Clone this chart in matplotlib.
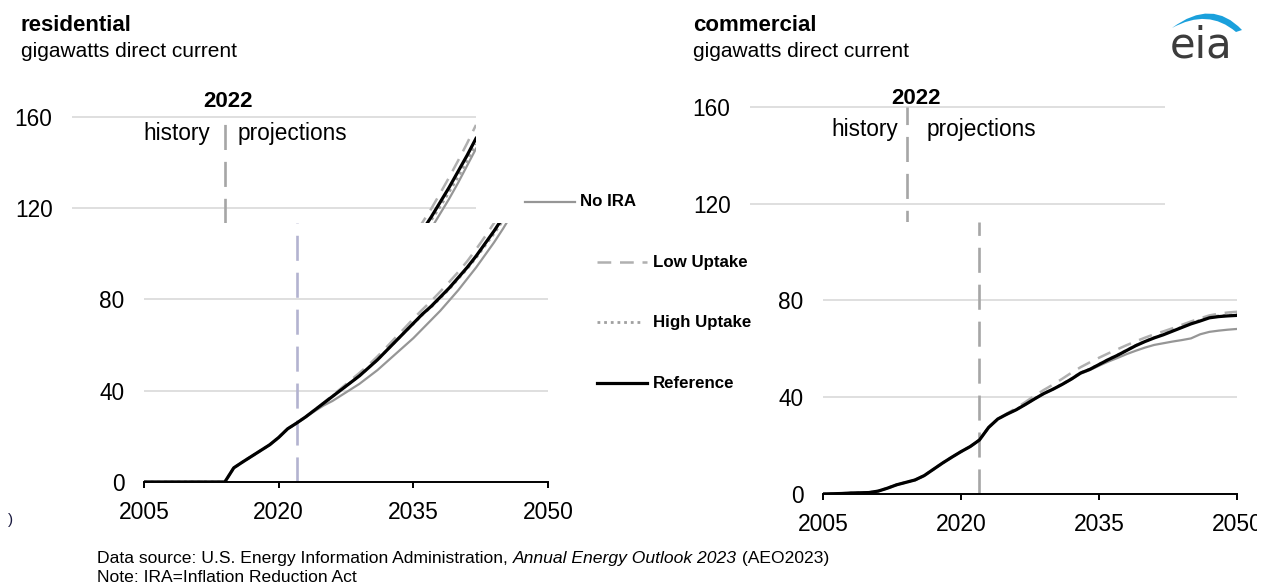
import matplotlib
matplotlib.use('Agg')
import matplotlib.pyplot as plt
from matplotlib.lines import Line2D
from matplotlib.path import Path
from matplotlib.patches import PathPatch
from matplotlib.transforms import Bbox, TransformedBbox

plt.rcParams['font.family'] = ['Liberation Sans', 'DejaVu Sans']

# ---- data ----
hist_years = list(range(2005, 2023))
proj_years = list(range(2022, 2051))

res_hist = [0, 0, 0, 0, 0, 0, 0, 0, 0, 0, 6.2, 8.8, 11.3, 13.8, 16.3, 19.5, 23.3, 25.8]
res_ref = [25.8, 28.5, 31.5, 34.5, 37.5, 40.5, 43.5, 46.5, 50, 53.5, 57.5, 61.5, 65.5, 69.5, 73.5,
           77, 81, 85, 89.5, 94, 99, 104.5, 110, 116, 122.5, 129, 136, 143, 150.5]
res_noira = [25.8, 28.3, 31, 33.5, 35.5, 38, 40.5, 43, 46, 49, 52.5, 56, 59.5, 63, 67,
             71, 75, 79.5, 84, 89, 94, 99.5, 105, 111, 117.5, 124, 131, 138.5, 146]
res_low = [25.8, 28.5, 31.5, 34.7, 38, 41.2, 44.5, 47.8, 51.2, 55, 59, 63.2, 67.3, 71.5, 75.5,
           79.3, 83.4, 87.6, 92, 96.7, 102, 107.6, 113.5, 119.6, 126.4, 133.4, 140.7, 148.3, 156.4]
res_high = [25.8, 28.5, 31.5, 34.5, 37.5, 40.5, 43.5, 46.5, 50, 53.5, 57.5, 61.5, 65.5, 69.3, 73.2,
            76.7, 80.6, 84.5, 89, 93.4, 98.3, 103.6, 108.9, 114.6, 120.6, 127, 133.6, 140.6, 148]

com_hist = [0, 0.1, 0.2, 0.4, 0.5, 0.6, 1.2, 2.4, 3.8, 4.8, 5.8, 7.6, 10.2, 12.8, 15.2, 17.5, 19.6, 22.3]
com_ref = [22.3, 27.5, 31, 33, 34.8, 37, 39.3, 41.5, 43.3, 45.3, 47.5, 50, 51.5, 53.5, 55.5,
           57.3, 59.3, 61.3, 63, 64.5, 65.8, 67.3, 68.8, 70.3, 71.5, 72.8, 73.3, 73.6, 73.8]
com_noira = [22.3, 27.5, 31, 33, 34.8, 37, 39.3, 41.5, 43.3, 45.3, 47.3, 49.7, 51.2, 53, 54.7,
             56.2, 57.8, 59.2, 60.5, 61.6, 62.3, 63, 63.6, 64.3, 66, 67, 67.5, 67.9, 68.2]
com_low = [22.3, 27.5, 31, 33.3, 35.5, 38, 40.6, 43, 45.2, 47.6, 50.1, 52.4, 54.4, 56.3, 58.1,
           59.8, 61.5, 63.1, 64.6, 66, 67.2, 68.5, 69.9, 71.3, 72.6, 73.8, 74.5, 75, 75.3]
com_high = [22.3, 27.5, 31, 33, 34.9, 37.1, 39.4, 41.6, 43.4, 45.4, 47.6, 50.1, 51.6, 53.6, 55.6,
            57.4, 59.4, 61.4, 63.1, 64.6, 66, 67.5, 69, 70.5, 71.8, 73.1, 73.6, 73.9, 74.1]

scenarios = ['No IRA', 'Low Uptake', 'High Uptake', 'Reference']
x_ticks = [2005, 2020, 2035, 2050]
upper_ticks = [120, 160]
lower_ticks = [0, 40, 80]

styles = {
    'No IRA': dict(color='#969696', lw=1.6, ls='-'),
    'Low Uptake': dict(color='#b0b0b0', lw=1.8, ls=(0, (5.5, 3.5))),
    'High Uptake': dict(color='#a0a0a0', lw=2.0, ls=(0, (1, 1.4))),
    'Reference': dict(color='black', lw=2.3, ls='-'),
}

W, H = 1270, 587
fig = plt.figure(figsize=(W / 100, H / 100), dpi=100)


def fx(px):
    return px / W


def fy(py):
    return 1 - py / H


def add_ax(left, top, right, bottom):
    return fig.add_axes([fx(left), fy(bottom), (right - left) / W, (bottom - top) / H])


def draw_lines(ax, hist, series):
    for name in scenarios:
        ax.plot(hist_years[:-1] + proj_years, hist[:-1] + series[name], **styles[name])


def upper_layer(ax, zero_px, scale, top_px, cut_px, hist, series, lab):
    ax.set_xlim(2005, 2050)
    ax.set_ylim((zero_px - cut_px) / scale, (zero_px - top_px) / scale)
    ax.set_facecolor('none')
    for s in ax.spines.values():
        s.set_visible(False)
    ax.set_xticks([])
    ax.set_yticks(upper_ticks)
    ax.tick_params(axis='y', length=0, pad=14, labelsize=16.3)
    ax.grid(axis='y', color='#d9d9d9', lw=1.2)
    ax.set_axisbelow(True)
    ax.vlines(2022, 0, 160, color='#a6a6a6', lw=1.9, ls=(0, (9.5, 4.5)))
    draw_lines(ax, hist, series)
    ax.annotate('2022', (2022, 160), xytext=lab['y2022'], textcoords='offset pixels',
                ha='center', va='center', fontsize=16, fontweight='bold', annotation_clip=False)
    ax.annotate('history', (2022, 160), xytext=lab['hist'], textcoords='offset pixels',
                ha='right', va='center', fontsize=16.3, annotation_clip=False)
    ax.annotate('projections', (2022, 160), xytext=lab['proj'], textcoords='offset pixels',
                ha='left', va='center', fontsize=16.3, annotation_clip=False)


def lower_layer(ax, zero_px, scale, cut_px, hist, series, vcolor, xpad):
    ax.set_xlim(2005, 2050)
    ax.set_ylim(0, (zero_px - cut_px) / scale)
    ax.set_facecolor('white')
    for k in ['top', 'right', 'left']:
        ax.spines[k].set_visible(False)
    ax.spines['bottom'].set_linewidth(1.4)
    ax.set_xticks(x_ticks)
    ax.set_yticks(lower_ticks)
    ax.tick_params(axis='y', length=0, pad=14, labelsize=16.3)
    ax.tick_params(axis='x', length=4.5, width=1.4, pad=xpad, labelsize=16.5)
    ax.grid(axis='y', color='#d9d9d9', lw=1.2)
    ax.set_axisbelow(True)
    ax.axvline(2022, color=vcolor, lw=1.9, ls=(0, (9.5, 4.5)))
    draw_lines(ax, hist, series)


res_series = {'No IRA': res_noira, 'Low Uptake': res_low, 'High Uptake': res_high, 'Reference': res_ref}
com_series = {'No IRA': com_noira, 'Low Uptake': com_low, 'High Uptake': com_high, 'Reference': com_ref}

# residential: top part drawn shifted, bottom part in place
ax_ru = add_ax(72, 88, 476, 223)
upper_layer(ax_ru, 482, 2.283, 88, 223, res_hist, res_series,
            dict(y2022=(3, 15), hist=(-14, -17), proj=(13, -17)))
ax_rl = add_ax(144, 223, 548, 482)
lower_layer(ax_rl, 482, 2.283, 223, res_hist, res_series, '#b3b3d0', 9)

# commercial
ax_cu = add_ax(750, 84, 1165, 222)
upper_layer(ax_cu, 494, 2.42, 84, 222, com_hist, com_series,
            dict(y2022=(9, 8), hist=(-9, -23), proj=(20, -23)))
ax_cl = add_ax(823, 222, 1237, 494)
lower_layer(ax_cl, 494, 2.42, 222, com_hist, com_series, '#a6a6a6', 9)

# right edge cuts the last tick label
clip = TransformedBbox(Bbox([[0, 0], [fx(1257), 1]]), fig.transFigure)
for lab in ax_cl.xaxis.get_ticklabels():
    lab.set_clip_box(clip)
    lab.set_clip_on(True)

# legend
legend_rows = [('No IRA', 525, 575, 580, 202),
               ('Low Uptake', 597, 647, 653, 262),
               ('High Uptake', 597, 640, 653, 322),
               ('Reference', 597, 647, 653, 383)]
for name, x0, x1, xt, y in legend_rows:
    fig.add_artist(Line2D([fx(x0), fx(x1)], [fy(y), fy(y)], transform=fig.transFigure, **styles[name]))
    fig.text(fx(xt), fy(y), name, fontsize=12.2, fontweight='bold', va='center')

# titles
fig.text(fx(21), fy(31), 'residential', fontsize=16, fontweight='bold', va='baseline')
fig.text(fx(21), fy(57), 'gigawatts direct current', fontsize=15, va='baseline')
fig.text(fx(693), fy(31), 'commercial', fontsize=16, fontweight='bold', va='baseline')
fig.text(fx(693), fy(57), 'gigawatts direct current', fontsize=15, va='baseline')
fig.text(fx(8), fy(520), ')', fontsize=11, color='#1a1a40', va='center')

# footnote
t1 = fig.text(fx(97), fy(558), 'Data source: U.S. Energy Information Administration, ', fontsize=12.6, va='center')
t2 = plt.annotate('Annual Energy Outlook 2023', xy=(1, 0), xycoords=t1, fontsize=12.6,
                  style='italic', va='bottom', ha='left')
plt.annotate(' (AEO2023)', xy=(1, 0), xycoords=t2, fontsize=12.6, va='bottom', ha='left')
fig.text(fx(97), fy(577), 'Note: IRA=Inflation Reduction Act', fontsize=12.6, va='center')

# eia logo
fig.text(fx(1170), fy(57), 'eia', fontsize=30, color='#3c3c3c', family='DejaVu Sans', va='baseline')
pts = [(1172, 28), (1212, -2), (1242, 30), (1236, 32), (1208, 8), (1172, 28)]
codes = [Path.MOVETO, Path.CURVE3, Path.CURVE3, Path.LINETO, Path.CURVE3, Path.CURVE3]
swoosh = Path([(fx(a), fy(b)) for a, b in pts], codes)
fig.add_artist(PathPatch(swoosh, transform=fig.transFigure, facecolor='#1aa0dc', edgecolor='none'))

fig.savefig('out.png', dpi=100)
